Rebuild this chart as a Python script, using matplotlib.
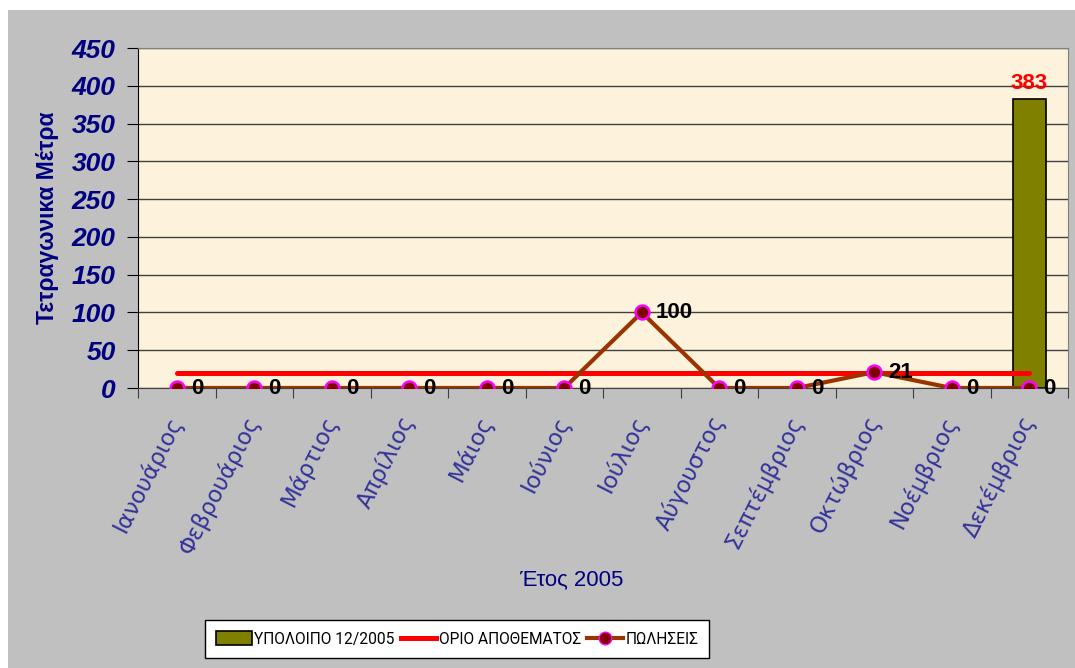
import numpy as np
import matplotlib
matplotlib.use("Agg")
import matplotlib.pyplot as plt
from matplotlib.patches import Rectangle
from matplotlib.lines import Line2D

# =========================
# Data
# =========================
MONTHS = ["Ιανουάριος", "Φεβρουάριος", "Μάρτιος", "Απρίλιος", "Μάιος", "Ιούνιος",
          "Ιούλιος", "Αύγουστος", "Σεπτέμβριος", "Οκτώβριος", "Νοέμβριος", "Δεκέμβριος"]
BALANCE = [None, None, None, None, None, None, None, None, None, None, None, 383]
STOCK_LIMIT = [20] * 12
SALES = [0, 0, 0, 0, 0, 0, 100, 0, 0, 21, 0, 0]
Y_TICKS = [0, 50, 100, 150, 200, 250, 300, 350, 400, 450]

NAVY = "#000080"
LABEL_BLUE = "#333399"
FONT = ["Liberation Sans", "DejaVu Sans"]

plt.rcParams["font.family"] = FONT

fig = plt.figure(figsize=(10.75, 6.68), dpi=100, facecolor="white")
# grey chart area (white strip on top / left like the source)
fig.patches.append(Rectangle((8 / 1075, 0), 1, (668 - 10) / 668, transform=fig.transFigure,
                             facecolor="#C0C0C0", edgecolor="none", zorder=-10))

ax = fig.add_axes([138 / 1075, (668 - 388) / 668, 930 / 1075, 340 / 668])
ax.set_zorder(1)
ax.set_facecolor("#FDF3DC")

x = np.arange(len(MONTHS))
bal = np.array([np.nan if v is None else v for v in BALANCE], dtype=float)

ax.bar(x, bal, width=0.43, color="#808000", edgecolor="black", linewidth=1.2, zorder=2)
ax.plot(x, STOCK_LIMIT, color="#FF0000", linewidth=3.6, solid_capstyle="round", zorder=3)
ax.plot(x, SALES, color="#993300", linewidth=3, marker="o", markersize=10,
        markerfacecolor="#800000", markeredgecolor="#FF00FF", markeredgewidth=1.8, zorder=4)

# data labels
for xi, v in zip(x, SALES):
    ax.annotate(str(v), (xi, v), xytext=(10, 0), textcoords="offset points",
                ha="left", va="center", fontsize=16, fontweight="bold", color="black", zorder=5)
for xi, v in zip(x, bal):
    if not np.isnan(v):
        ax.annotate(f"{v:.0f}", (xi, v), xytext=(0, 3), textcoords="offset points",
                    ha="center", va="bottom", fontsize=16, fontweight="bold", color="#FF0000", zorder=5)

ax.set_xlim(-0.5, len(MONTHS) - 0.5)
ax.set_ylim(0, 450)
ax.set_yticks(Y_TICKS)
ax.set_yticklabels([str(t) for t in Y_TICKS], fontsize=19, fontweight="bold",
                   fontstyle="italic", color=NAVY)
ax.yaxis.grid(True, color="#404040", linewidth=1)
ax.set_axisbelow(True)

ax.set_xticks(np.arange(-0.5, len(MONTHS), 1.0))
ax.set_xticklabels([])
ax.set_xticks(x, minor=True)
ax.set_xticklabels(MONTHS, minor=True, rotation=63, rotation_mode="anchor",
                   ha="right", va="center", fontsize=16.5, color=LABEL_BLUE,
                   family=["DejaVu Sans"])
ax.tick_params(axis="x", which="minor", length=0, pad=21)
ax.tick_params(axis="x", which="major", length=7, color="#404040", direction="out")
ax.tick_params(axis="y", length=8, color="black", direction="out", pad=8)

for side in ["top", "right"]:
    ax.spines[side].set_color("#808080")
ax.spines["left"].set_color("black")
ax.spines["bottom"].set_color("#404040")

ax.set_ylabel("Τετραγωνικα Μέτρα", fontsize=16.5, fontweight="bold", color=NAVY)
ax.yaxis.set_label_coords(-0.085, 0.5)
fig.text(571 / 1075, 1 - 580 / 668, "Έτος 2005", ha="center", va="center",
         fontsize=16, color=NAVY)

handles = [
    Rectangle((0, 0), 1, 1, facecolor="#808000", edgecolor="black", linewidth=1.2),
    Line2D([], [], color="#FF0000", linewidth=3.6),
    Line2D([], [], color="#993300", linewidth=3, marker="o", markersize=9,
           markerfacecolor="#800000", markeredgecolor="#FF00FF"),
]
leg = fig.legend(handles, ["ΥΠΟΛΟΙΠΟ 12/2005", "ΟΡΙΟ ΑΠΟΘΕΜΑΤΟΣ", "ΠΩΛΗΣΕΙΣ"],
                 loc="center", bbox_to_anchor=(457 / 1075, 1 - 639 / 668), ncol=3,
                 prop={"family": ["Roboto", "DejaVu Sans"], "size": 11.2},
                 frameon=True, fancybox=False, edgecolor="black",
                 facecolor="white", framealpha=1, borderpad=0.7, handlelength=2.3,
                 handleheight=1.0, handletextpad=0.15, columnspacing=0.4)
leg.get_frame().set_linewidth(1)

fig.savefig("out.png", dpi=100, facecolor=fig.get_facecolor())
